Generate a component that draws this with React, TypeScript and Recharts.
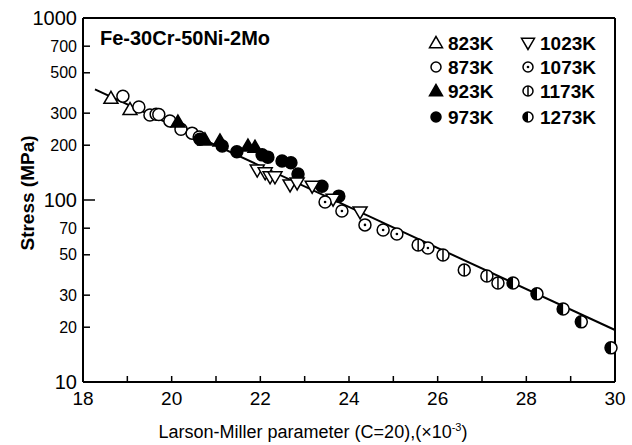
import { ComposedChart, Scatter, XAxis, YAxis, ReferenceLine, Legend } from 'recharts'

// Larson-Miller parameter (x10^-3) vs stress (MPa)
const k823 = [{ x: 18.63, y: 362 }, { x: 19.06, y: 314 }]
const k873 = [
  { x: 18.9, y: 372 }, { x: 19.26, y: 324 }, { x: 19.51, y: 293 }, { x: 19.65, y: 296 },
  { x: 19.71, y: 295 }, { x: 19.96, y: 272 }, { x: 20.21, y: 245 }, { x: 20.46, y: 233 },
  { x: 20.62, y: 222 },
]
const k923 = [
  { x: 20.14, y: 268 }, { x: 20.75, y: 214 }, { x: 21.09, y: 211 }, { x: 21.72, y: 198 },
  { x: 21.88, y: 195 },
]
const k973 = [
  { x: 20.64, y: 216 }, { x: 21.14, y: 198 }, { x: 21.47, y: 184 }, { x: 22.04, y: 177 },
  { x: 22.17, y: 172 }, { x: 22.49, y: 164 }, { x: 22.69, y: 160 }, { x: 22.85, y: 139 },
  { x: 23.39, y: 119 }, { x: 23.77, y: 105 },
]
const k1023 = [
  { x: 21.93, y: 146 }, { x: 22.11, y: 141 }, { x: 22.22, y: 134 }, { x: 22.33, y: 134 },
  { x: 22.67, y: 121 }, { x: 22.83, y: 124 }, { x: 23.17, y: 119 }, { x: 23.64, y: 101 },
  { x: 24.25, y: 86 },
]
const k1073 = [
  { x: 23.46, y: 97.5 }, { x: 23.84, y: 87 }, { x: 24.36, y: 73 }, { x: 24.77, y: 68.4 },
  { x: 25.08, y: 65 }, { x: 25.78, y: 54.5 },
]
const k1173 = [
  { x: 25.56, y: 56.6 }, { x: 26.12, y: 49.9 }, { x: 26.6, y: 41.2 }, { x: 27.11, y: 38.2 },
  { x: 27.36, y: 35 },
]
const k1273 = [
  { x: 27.7, y: 35 }, { x: 28.24, y: 30.5 }, { x: 28.83, y: 25.2 }, { x: 29.24, y: 21.4 },
  { x: 29.91, y: 15.4 },
]
const fitLine = [{ x: 18.27, y: 405 }, { x: 30, y: 19.3 }]

const xTicks = [18, 19, 20, 21, 22, 23, 24, 25, 26, 27, 28, 29, 30]
const yTicks = [10, 20, 30, 50, 70, 100, 200, 300, 500, 700, 1000]

const series = [
  { name: '823K', kind: 'triUp', data: k823 },
  { name: '873K', kind: 'circle', data: k873 },
  { name: '923K', kind: 'triUpFill', data: k923 },
  { name: '973K', kind: 'dot', data: k973 },
  { name: '1023K', kind: 'triDown', data: k1023 },
  { name: '1073K', kind: 'circleDot', data: k1073 },
  { name: '1173K', kind: 'circleBar', data: k1173 },
  { name: '1273K', kind: 'half', data: k1273 },
]

const FONT = '"Liberation Sans", Arial, Helvetica, sans-serif'

function Mark({ kind, cx, cy, r = 6 }: { kind: string; cx: number; cy: number; r?: number }) {
  const sw = 1.5
  const h = r + 1
  if (kind === 'triUp' || kind === 'triUpFill') {
    const pts = `${cx},${cy - h} ${cx - h},${cy + h * 0.72} ${cx + h},${cy + h * 0.72}`
    return <polygon points={pts} fill={kind === 'triUpFill' ? '#000' : '#fff'} stroke="#000" strokeWidth={sw} />
  }
  if (kind === 'triDown') {
    const pts = `${cx},${cy + h} ${cx - h},${cy - h * 0.72} ${cx + h},${cy - h * 0.72}`
    return <polygon points={pts} fill="#fff" stroke="#000" strokeWidth={sw} />
  }
  if (kind === 'dot') return <circle cx={cx} cy={cy} r={r} fill="#000" stroke="#000" strokeWidth={sw} />
  if (kind === 'half') {
    return (
      <g>
        <circle cx={cx} cy={cy} r={r} fill="#fff" stroke="#000" strokeWidth={sw} />
        <path d={`M${cx},${cy - r} A${r},${r} 0 0 0 ${cx},${cy + r} Z`} fill="#000" />
      </g>
    )
  }
  return (
    <g>
      <circle cx={cx} cy={cy} r={r} fill="#fff" stroke="#000" strokeWidth={sw} />
      {kind === 'circleDot' && <circle cx={cx} cy={cy} r={1.3} fill="#000" />}
      {kind === 'circleBar' && <line x1={cx} x2={cx} y1={cy - r} y2={cy + r} stroke="#000" strokeWidth={sw} />}
    </g>
  )
}

function XTick({ x, y, payload }: any) {
  const v = payload.value
  const ay = y - 10
  return (
    <g>
      {v !== 18 && v !== 30 && <line x1={x} x2={x} y1={ay} y2={ay - 6} stroke="#000" strokeWidth={1.5} />}
      {v % 2 === 0 && (
        <text x={x} y={y} dy="0.71em" textAnchor="middle" fontSize={19} fontFamily={FONT} fill="#000">{v}</text>
      )}
    </g>
  )
}

function YTick({ x, y, payload }: any) {
  const v = payload.value
  const decade = v === 10 || v === 100 || v === 1000
  const ax = x + 6
  return (
    <g>
      {v !== 10 && v !== 1000 && (
        <line x1={ax} x2={ax + (v === 100 ? 12 : 7)} y1={y} y2={y} stroke="#000" strokeWidth={1.5} />
      )}
      <text x={x} y={y} dy="0.35em" textAnchor="end" fontSize={decade ? 20 : 16} fontFamily={FONT} fill="#000">{v}</text>
    </g>
  )
}

function LegendBox() {
  const rows = [15, 39, 63, 89]
  return (
    <svg width={200} height={110}>
      {series.map((s, i) => {
        const col = i < 4 ? 0 : 1
        const cy = rows[i % 4]
        const mx = col === 0 ? 16 : 108
        const tx = col === 0 ? 28 : 120
        return (
          <g key={s.name}>
            <Mark kind={s.kind} cx={mx} cy={cy} r={s.kind.startsWith('tri') ? 5.5 : 5} />
            <text x={tx} y={cy} dy="0.36em" fontSize={19} fontWeight="bold" fontFamily={FONT} fill="#000">{s.name}</text>
          </g>
        )
      })}
    </svg>
  )
}

export default function App() {
  return (
    <div style={{ position: 'absolute', left: 0, top: 0, width: 632, height: 445, background: '#fff' }}>
      <div style={{ position: 'absolute', left: 100, top: 27, fontFamily: FONT, fontWeight: 'bold', fontSize: 20, lineHeight: '22px', zIndex: 2 }}>
        Fe-30Cr-50Ni-2Mo
      </div>
      <ComposedChart width={632} height={445} margin={{ top: 18, right: 17, left: 23, bottom: 33 }}>
        <XAxis
          dataKey="x"
          type="number"
          domain={[18, 30]}
          ticks={xTicks}
          interval={0}
          tickSize={0}
          tickMargin={10}
          tick={<XTick />}
          axisLine={{ stroke: '#000', strokeWidth: 2 }}
          height={30}
          label={{
            content: () => (
              <text x={313} y={438} textAnchor="middle" fontSize={18} fontFamily={FONT} fill="#000">
                Larson-Miller parameter (C=20),(×10<tspan dy={-7} fontSize={11}>-3</tspan><tspan dy={7}>)</tspan>
              </text>
            ),
          }}
        />
        <YAxis
          dataKey="y"
          type="number"
          scale="log"
          domain={[10, 1000]}
          allowDataOverflow
          ticks={yTicks}
          interval={0}
          tickSize={0}
          tickMargin={6}
          tick={<YTick />}
          axisLine={{ stroke: '#000', strokeWidth: 2 }}
          width={60}
          label={{
            content: () => (
              <text transform="translate(27,193) rotate(-90)" textAnchor="middle" dy="0.35em" fontSize={19} fontWeight="bold" fontFamily={FONT} fill="#000">
                Stress (MPa)
              </text>
            ),
          }}
        />
        <ReferenceLine x={30} stroke="#000" strokeWidth={2} />
        <ReferenceLine y={1000} stroke="#000" strokeWidth={2} />
        <Scatter
          data={fitLine}
          line={{ stroke: '#000', strokeWidth: 2 }}
          shape={() => <g />}
          legendType="none"
          isAnimationActive={false}
        />
        {series.map(s => (
          <Scatter
            key={s.name}
            name={s.name}
            data={s.data}
            shape={(p: any) => <Mark kind={s.kind} cx={p.cx} cy={p.cy} />}
            isAnimationActive={false}
          />
        ))}
        <Legend
          layout="horizontal"
          verticalAlign="middle"
          align="center"
          wrapperStyle={{ left: 420, top: 28, width: 200, height: 110 }}
          content={() => <LegendBox />}
        />
      </ComposedChart>
    </div>
  )
}
